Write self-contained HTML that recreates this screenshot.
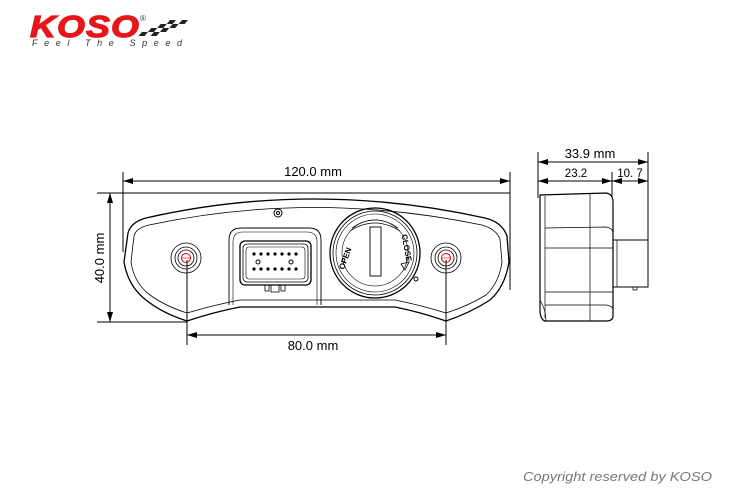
<!DOCTYPE html>
<html><head><meta charset="utf-8"><style>
html,body{margin:0;padding:0;background:#fff;width:740px;height:500px;overflow:hidden}
svg{display:block}
text{font-family:"Liberation Sans",sans-serif}
</style></head><body>
<svg width="740" height="500" viewBox="0 0 740 500" xmlns="http://www.w3.org/2000/svg">
<defs>
<marker id="a" viewBox="0 0 10 6" refX="10" refY="3" markerWidth="10" markerHeight="6" orient="auto-start-reverse" markerUnits="userSpaceOnUse"><path d="M0,0 L10,3 L0,6 Z" fill="#000"/></marker>
</defs>
<!-- logo -->
<text x="30" y="37" font-size="31" font-weight="bold" font-style="italic" fill="#e8161b" letter-spacing="1" textLength="110" lengthAdjust="spacingAndGlyphs" stroke="#e8161b" stroke-width="1.2">KOSO</text>
<text x="140" y="21" font-size="8" fill="#333">®</text>
<g fill="#222" transform="translate(146,20) skewX(-40)">
<rect x="24" y="0" width="6" height="4"/><rect x="36" y="0" width="6" height="4"/>
<rect x="18" y="4" width="6" height="4"/><rect x="30" y="4" width="6" height="4"/>
<rect x="12" y="8" width="6" height="4"/><rect x="24" y="8" width="6" height="4"/>
<rect x="18" y="12" width="6" height="4"/><rect x="6" y="12" width="6" height="4"/>
</g>
<text x="32" y="46" font-size="9" font-style="italic" fill="#333" textLength="150" lengthAdjust="spacing">Feel The Speed</text>

<g stroke="#000" stroke-width="1" fill="none">
<line x1="123" y1="172" x2="123" y2="252"/>
<line x1="510" y1="172" x2="510" y2="290"/>
<line x1="97" y1="193" x2="510" y2="193"/>
<line x1="97" y1="322" x2="187" y2="322"/>
<line x1="187" y1="260" x2="187" y2="345"/>
<line x1="446" y1="260" x2="446" y2="345"/>
<line x1="123" y1="181" x2="510" y2="181" marker-start="url(#a)" marker-end="url(#a)"/>
<line x1="110" y1="193" x2="110" y2="322" marker-start="url(#a)" marker-end="url(#a)"/>
<line x1="187" y1="335" x2="446" y2="335" marker-start="url(#a)" marker-end="url(#a)"/>

<path d="M128,233 Q131,222 146,218 Q313,180 485,218 Q502,222 507,236 L509,262 Q505,287 490,300 Q470,313 446,321 Q420,312 395,307 L240,307 Q214,312 187,321 Q162,313 146,300 Q128,286 124,262 Z" stroke-width="1.3"/>
<path d="M134,236 Q136,228 149,225 Q313,190 482,225 Q496,229 500,239 L502,262 Q499,283 486,295 Q468,306 446,313 Q420,305 395,300 L240,300 Q214,305 187,313 Q165,306 150,295 Q134,283 131,262 Z" stroke-width="0.8"/>
<path d="M229,305 L229,240 Q229,228 241,228 L309,228 Q321,228 321,240 L321,305" stroke-width="0.9"/>
<path d="M233,305 L233,242 Q233,232 243,232 L307,232 Q317,232 317,242 L317,305" stroke-width="0.6"/>
<rect x="240" y="241" width="71" height="44" rx="5" stroke-width="1.3"/>
<rect x="243" y="244" width="65" height="38" rx="4" stroke-width="0.8"/>
<rect x="246" y="247" width="59" height="32" rx="3" stroke-width="0.6"/>
<path d="M265,285 v6 h4 v-6 M271,285 v7 h8 v-7 M281,285 v6 h4 v-6" stroke-width="0.8"/>
<circle cx="258" cy="262" r="2"/><circle cx="291" cy="262" r="2"/>
<circle cx="375" cy="253" r="45" stroke-width="1.3"/>
<circle cx="375" cy="253" r="42" stroke-width="0.8"/>
<circle cx="375" cy="253" r="39" stroke-width="0.6"/>
<circle cx="375" cy="253" r="33" stroke-width="0.6"/>
<path d="M350,231 Q375,215 400,231" stroke-width="0.7"/>
<path d="M352,228 Q375,212 398,228" stroke-width="0.7"/>
<rect x="370" y="227" width="11" height="49" stroke-width="0.9"/>
<path d="M401,264 L409,262 L405,270 Z" stroke-width="0.8"/>
<circle cx="416" cy="279" r="2"/>
<circle cx="278" cy="213" r="4"/><circle cx="278" cy="213" r="1.5"/>
<circle cx="186" cy="258" r="15" stroke-width="0.8"/>
<circle cx="186" cy="258" r="11" stroke-width="0.8"/>
<circle cx="186" cy="258" r="8" stroke-width="0.8"/>
<circle cx="446" cy="258" r="15" stroke-width="0.8"/>
<circle cx="446" cy="258" r="11" stroke-width="0.8"/>
<circle cx="446" cy="258" r="8" stroke-width="0.8"/>
</g>
<g fill="#000">
<circle cx="254" cy="254" r="1.6"/><circle cx="261" cy="254" r="1.6"/><circle cx="268" cy="254" r="1.6"/><circle cx="275" cy="254" r="1.6"/><circle cx="282" cy="254" r="1.6"/><circle cx="289" cy="254" r="1.6"/><circle cx="296" cy="254" r="1.6"/>
<circle cx="254" cy="269" r="1.6"/><circle cx="261" cy="269" r="1.6"/><circle cx="268" cy="269" r="1.6"/><circle cx="275" cy="269" r="1.6"/><circle cx="282" cy="269" r="1.6"/><circle cx="289" cy="269" r="1.6"/><circle cx="296" cy="269" r="1.6"/>
</g>
<g fill="none" stroke="#d00" stroke-width="1"><circle cx="186" cy="258" r="4.5"/><circle cx="446" cy="258" r="4.5"/></g>
<g stroke="#d00" stroke-width="0.6"><line x1="181" y1="258" x2="191" y2="258"/><line x1="441" y1="258" x2="451" y2="258"/></g>
<text x="344" y="262" font-size="8" font-weight="bold" transform="rotate(-70 344 258)" text-anchor="middle">OPEN</text>
<text x="406" y="250" font-size="8" font-weight="bold" transform="rotate(80 406 248)" text-anchor="middle">CLOSE</text>

<g stroke="#000" fill="none" stroke-width="1">
<line x1="538" y1="152" x2="538" y2="198"/>
<line x1="648" y1="152" x2="648" y2="245"/>
<line x1="612" y1="172" x2="612" y2="196"/>
<line x1="538" y1="162" x2="648" y2="162" marker-start="url(#a)" marker-end="url(#a)"/>
<line x1="538" y1="181" x2="612" y2="181" marker-start="url(#a)" marker-end="url(#a)"/>
<line x1="612" y1="181" x2="648" y2="181" marker-start="url(#a)" marker-end="url(#a)"/>
<path d="M540,195 L606,193 Q613,194 613,202 L613,316 Q613,321 606,321 L545,321 Q541,320 540,312 Z" stroke-width="1.2"/>
<path d="M545,196 L545,318" stroke-width="0.7"/>
<line x1="590" y1="194" x2="590" y2="321" stroke-width="0.7"/>
<path d="M545,228 L606,227 Q613,228 613,234 M545,248 L613,248 M545,292 L613,292 M545,305 L606,305 Q613,306 613,310" stroke-width="0.7"/>
<path d="M540,300 Q546,310 546,321" stroke-width="0.7"/>
<rect x="613" y="240" width="35" height="47" stroke-width="1"/>
<line x1="617" y1="240" x2="617" y2="287" stroke-width="0.7"/>
<path d="M633,287 v3 h4 v-3" stroke-width="0.7"/>
</g>

<g font-size="13" fill="#000" text-anchor="middle">
<text x="313" y="176">120.0 mm</text>
<text x="313" y="350">80.0 mm</text>
<text x="590" y="158">33.9 mm</text>
<text x="104" y="258" transform="rotate(-90 104 258)">40.0 mm</text>
</g>
<text x="576" y="177" font-size="11.5" text-anchor="middle">23.2</text>
<text x="630" y="177" font-size="11.5" text-anchor="middle">10. 7</text>
<text x="523" y="481" font-size="13" font-style="italic" fill="#777" textLength="189" lengthAdjust="spacingAndGlyphs">Copyright reserved by KOSO</text>
</svg>
</body></html>
